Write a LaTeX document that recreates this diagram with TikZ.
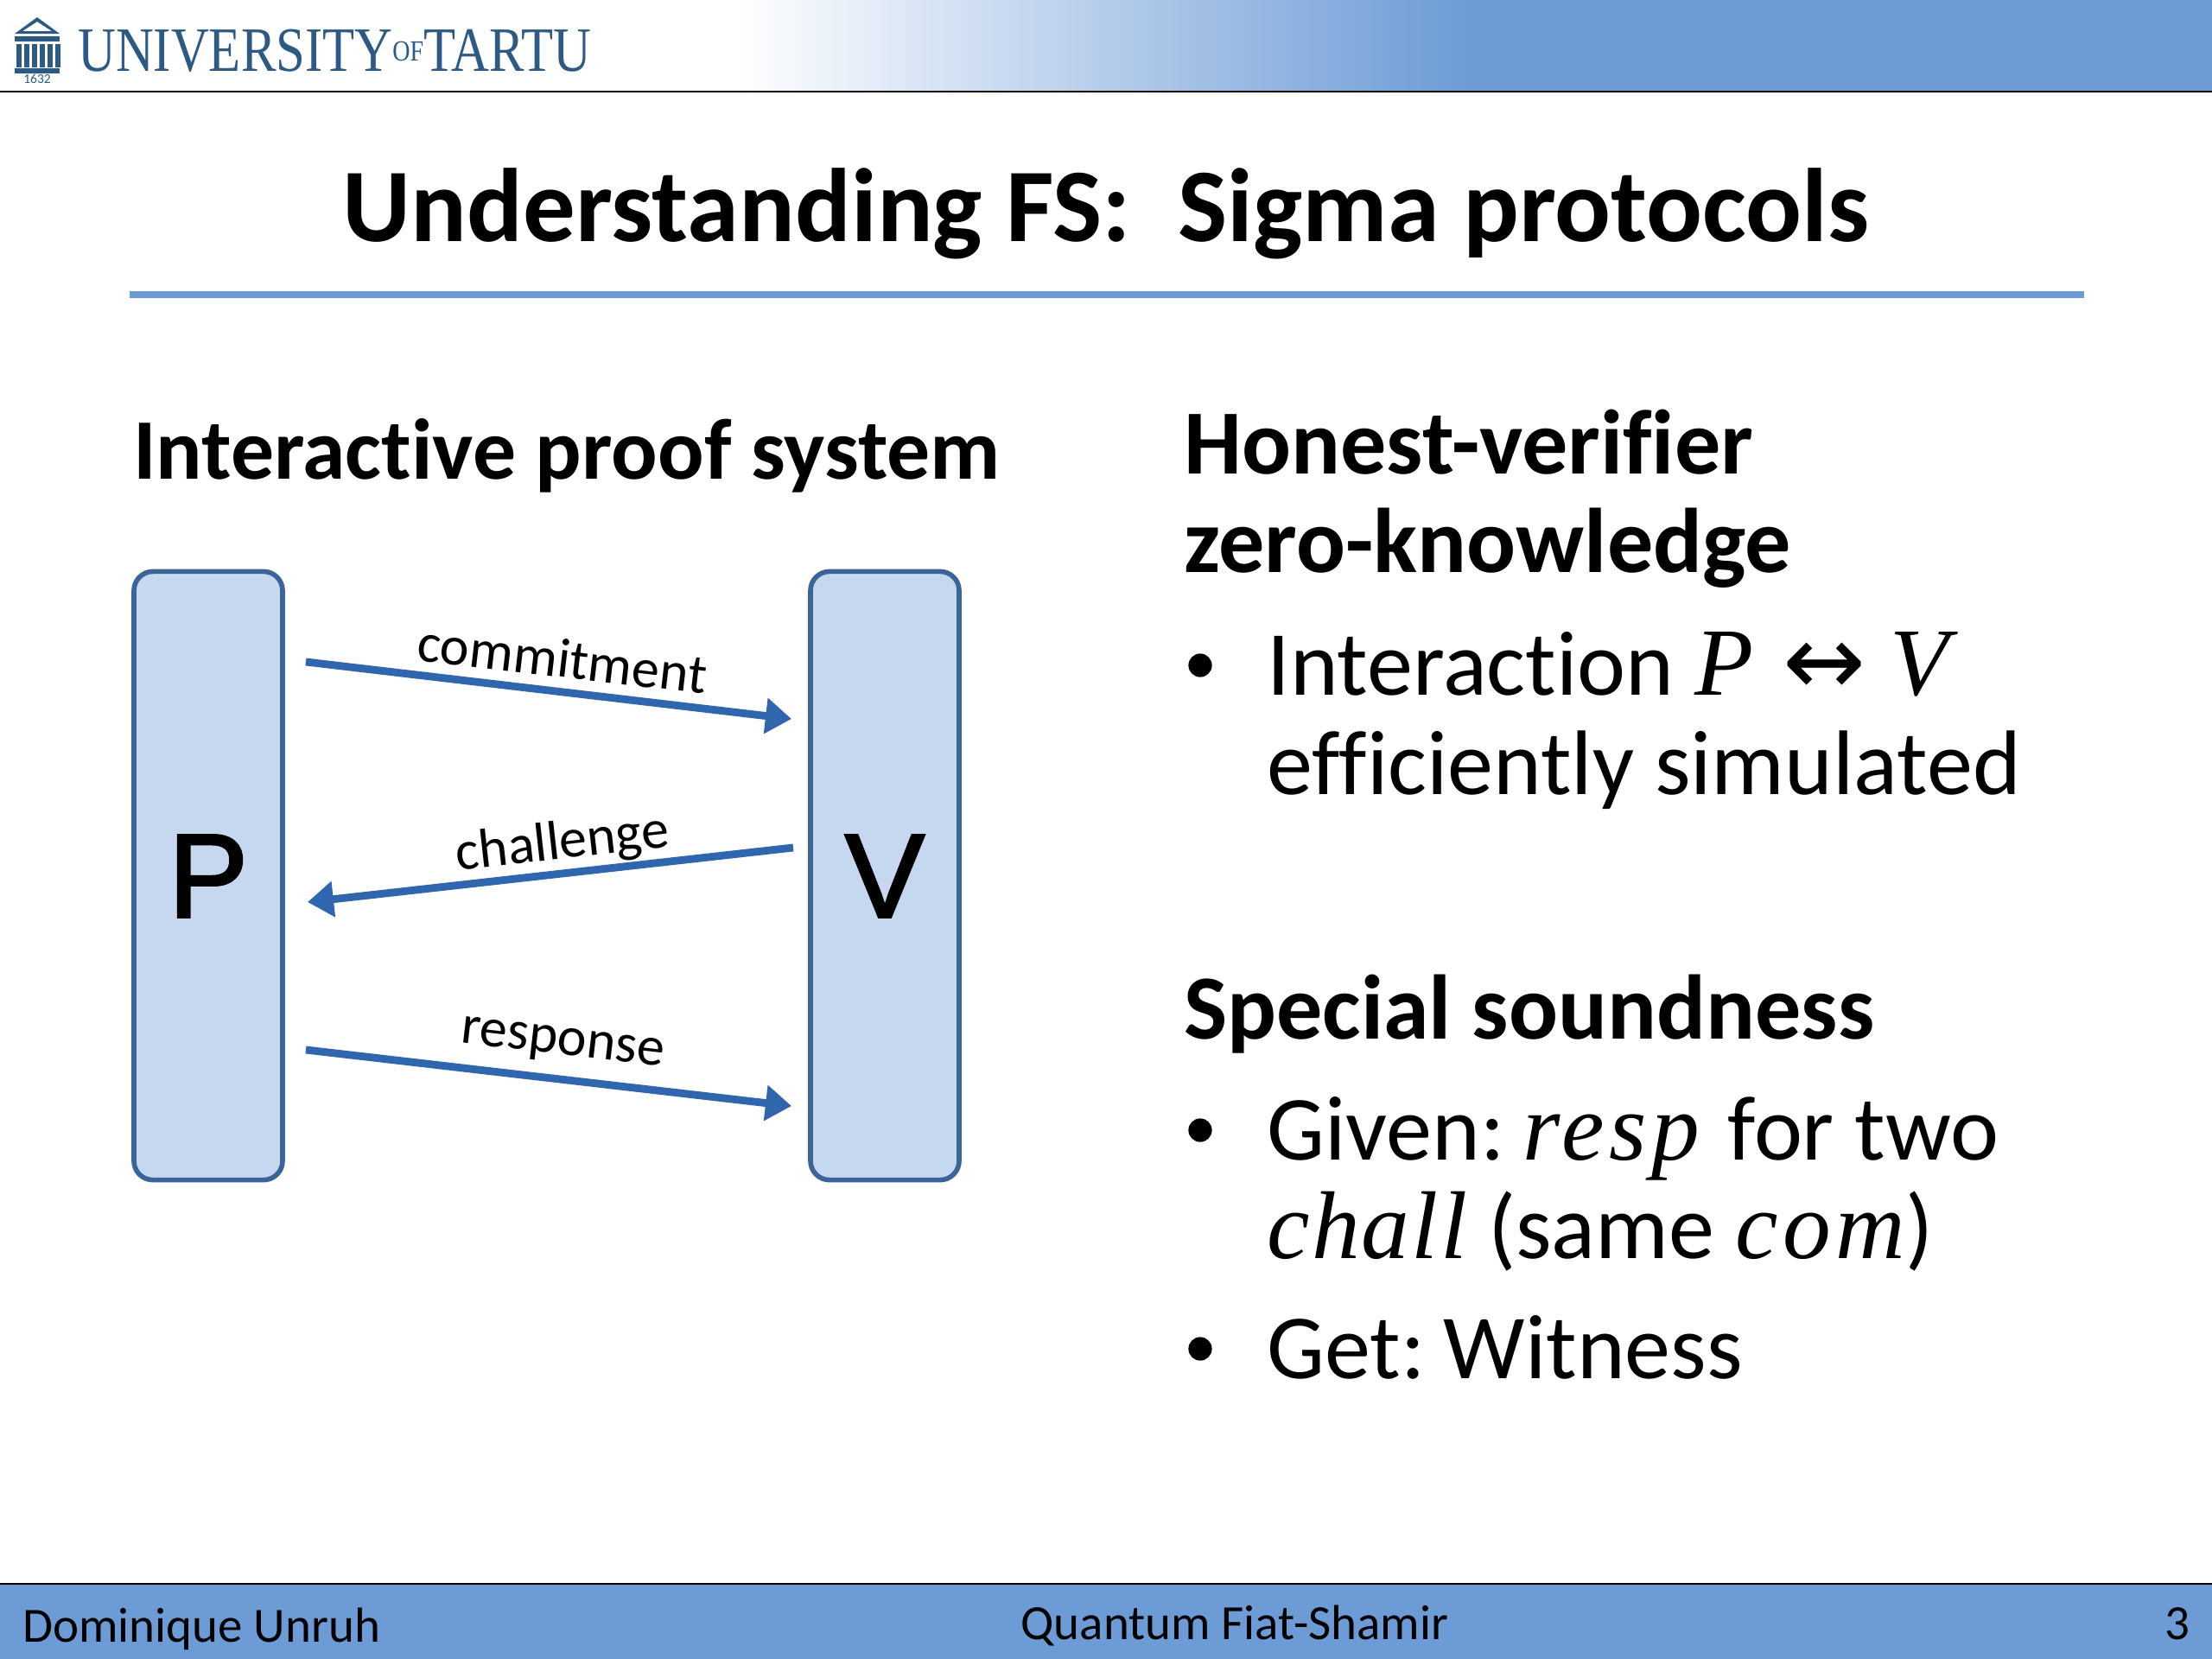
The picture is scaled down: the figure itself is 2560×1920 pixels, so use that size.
\documentclass[tikz,border=0pt]{standalone}
\usepackage{fontspec}
\setmainfont{Carlito}[Ligatures=NoCommon]
\newfontfamily\arialf{Liberation Sans}[FakeBold=2.2]
\newfontfamily\logof{Liberation Serif}[FakeStretch=0.83]
\newfontfamily\mathf{Liberation Serif}[Scale=1.05,LetterSpace=5]
\newfontfamily\mathg{Liberation Serif}[Scale=1.05,LetterSpace=2]
\newfontfamily\arrowf{DejaVu Sans}[Scale=1.08]
\newcommand{\mvar}[1]{{\mathf\itshape #1}}
\newcommand{\mvarn}[1]{{\mathg\itshape #1}}
\usetikzlibrary{arrows.meta}
\definecolor{hdr}{HTML}{6C9BD6}
\definecolor{boxf}{HTML}{C5D8EF}
\definecolor{boxd}{HTML}{3B6499}
\definecolor{arr}{HTML}{2F66AD}
\definecolor{logo}{HTML}{2C5A85}
\tikzset{x=0.025cm,y=-0.025cm,
 party/.style={draw=boxd,line width=4pt,fill=boxf,rounded corners=0.55cm,minimum width=4.3cm,minimum height=17.6cm,inner sep=0pt},
 partyname/.style={font=\arialf\fontsize{98}{98}\selectfont,inner sep=0pt},
 msg/.style={draw=arr,line width=6.3pt,-{Triangle[length=0.75cm,width=1cm]}},
 lab/.style={font=\fontsize{45.5}{45.5}\selectfont,inner sep=0pt},
 hd/.style={font=\bfseries\fontsize{75.5}{76}\selectfont,anchor=base west,inner sep=0pt},
 body/.style={font=\fontsize{75.5}{76}\selectfont,anchor=base west,inner sep=0pt},
 foot/.style={inner sep=0pt,font=\fontsize{40.5}{41}\selectfont},
 bull/.style={circle,fill=black,inner sep=0pt,minimum size=0.68cm}}
\begin{document}
\begin{tikzpicture}
\useasboundingbox (0,0) rectangle (2560,1920);
\fill[white] (0,0) rectangle (2560,1920);
\shade[left color=white,right color=hdr] (850,0) rectangle (1700,105);
\fill[hdr] (1700,0) rectangle (2560,105);
\draw[black,line width=2pt] (0,106) -- (2560,106);
\node[anchor=base west,inner sep=0pt,text=logo,font=\logof\fontsize{52}{52}\selectfont] (uni) at (90,82) {UNIVERSITY\raisebox{0.35ex}{\fontsize{24}{24}\selectfont OF}TARTU};
\fill[logo,even odd rule] (17,39) -- (43,20) -- (69,39) -- cycle (26,36) -- (43,25) -- (60,36) -- cycle;
\fill[logo] (17,42) rectangle (69,48);
\foreach \i in {0,...,5} \fill[logo] (18.5+\i*9,51) rectangle (24.5+\i*9,78);
\fill[logo] (17,79) rectangle (69,85);
\node[text=logo,font=\fontsize{11}{11}\selectfont,inner sep=0pt] (yr) at (43,91) {1632};
\node[font=\bfseries\fontsize{86}{86}\selectfont,anchor=base,inner sep=0pt] (title) at (1280,279) {Understanding FS:\ \ Sigma protocols};
\draw[hdr,line width=5pt] (150,341) -- (2412,341);
\node[hd,font=\bfseries\fontsize{71}{71}\selectfont] (ips) at (154,554) {Interactive proof system};
\node[party] (P) at (241,1013.5) {};
\node[party] (V) at (1024,1013.5) {};
\node[partyname] (Pl) at (241,1014) {P};
\node[partyname] (Vl) at (1024,1014) {V};
\coordinate (a1) at (354,766); \coordinate (b1) at (916,832);
\coordinate (a2) at (918,981); \coordinate (b2) at (356,1044);
\coordinate (a3) at (354,1215); \coordinate (b3) at (916,1280);
\draw[msg] (a1) -- (b1);
\draw[msg] (a2) -- (b2);
\draw[msg] (a3) -- (b3);
\node[lab,rotate=-6.7] (l1) at (651,762) {commitment};
\node[lab,rotate=6.4] (l2) at (651,977) {challenge};
\node[lab,rotate=-6.6] (l3) at (651,1210) {response};
\node[hd] (h1) at (1370,548) {Honest-verifier};
\node[hd] (h2) at (1370,662) {zero-knowledge};
\node[body] (b1a) at (1466,804) {Interaction \mvar{P}\kern24pt{\arrowf ↔}\kern20pt\mvar{V}};
\node[body] (b1b) at (1466,919) {efficiently simulated};
\node[hd] (h3) at (1370,1202) {Special soundness};
\node[body] (b2a) at (1466,1342) {Given:\kern-2pt\ \mvar{resp}\kern6pt\ for two};
\node[body] (b2b) at (1466,1456) {\mvarn{chall} (same \mvar{com})};
\node[body] (b2c) at (1466,1595) {Get:\kern-2pt\ Witness};
\node[bull] (d1) at (1389,770) {};
\node[bull] (d2) at (1389,1308) {};
\node[bull] (d3) at (1389,1561) {};
\fill[hdr] (0,1833) rectangle (2560,1920);
\draw[black,line width=2pt] (0,1833) -- (2560,1833);
\node[foot,anchor=base west] (f1) at (26,1900) {Dominique Unruh};
\node[foot,anchor=base] (f2) at (1429,1897) {Quantum Fiat-Shamir};
\node[foot,anchor=base east] (f3) at (2535,1897) {3};
\end{tikzpicture}
\end{document}
